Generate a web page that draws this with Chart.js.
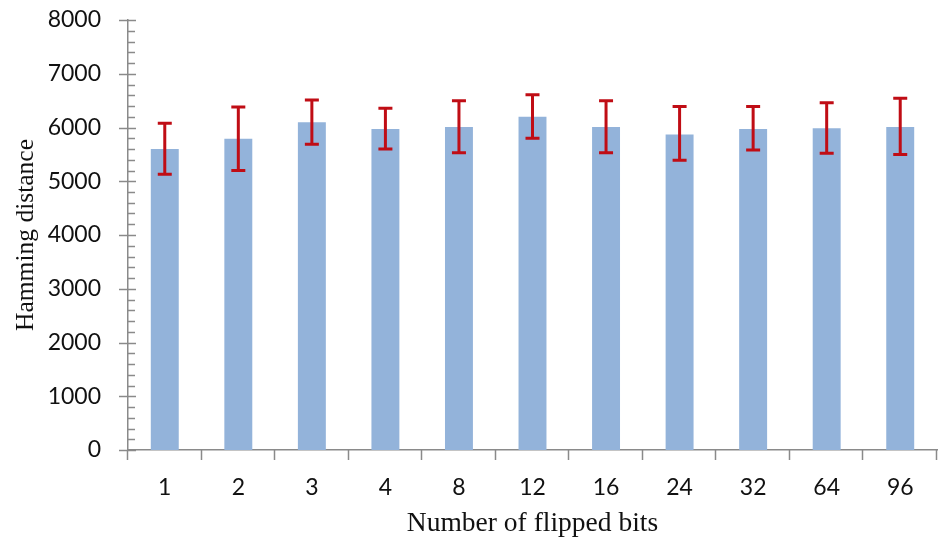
<!DOCTYPE html>
<html>
<head>
    <title>Hamming distance vs flipped bits</title>
    <script src="https://cdn.jsdelivr.net/npm/chart.js"></script>
    <style>
        html, body { margin: 0; padding: 0; background: #fff; }
        #wrap { width: 938px; height: 543px; position: relative; }
    </style>
</head>
<body>
    <div id="wrap"><canvas id="hammingChart"></canvas></div>

    <script>
        // values
        const flippedBits = ['1', '2', '3', '4', '8', '12', '16', '24', '32', '64', '96'];
        const hammingMean = [5600, 5790, 6100, 5970, 6010, 6200, 6010, 5870, 5970, 5985, 6010];
        const errorHigh = [6080, 6380, 6510, 6360, 6500, 6610, 6500, 6390, 6390, 6460, 6545];
        const errorLow = [5130, 5200, 5690, 5600, 5530, 5800, 5530, 5390, 5580, 5520, 5500];

        // draws error bars, axis tick marks (major cross the axis, minor inside)
        const errorBarsAndTicks = {
            id: 'errorBarsAndTicks',
            afterDatasetsDraw(chart) {
                const ctx = chart.ctx;
                const y = chart.scales.y;
                const meta = chart.getDatasetMeta(0);
                ctx.save();
                ctx.strokeStyle = '#C00D15';
                ctx.lineWidth = 3;
                meta.data.forEach((bar, i) => {
                    const top = y.getPixelForValue(errorHigh[i]);
                    const bot = y.getPixelForValue(errorLow[i]);
                    ctx.beginPath();
                    ctx.moveTo(bar.x, top);
                    ctx.lineTo(bar.x, bot);
                    ctx.moveTo(bar.x - 7, top);
                    ctx.lineTo(bar.x + 7, top);
                    ctx.moveTo(bar.x - 7, bot);
                    ctx.lineTo(bar.x + 7, bot);
                    ctx.stroke();
                });

                ctx.strokeStyle = '#8a8a8a';
                ctx.lineWidth = 1.5;
                const left = chart.chartArea.left;
                const bottom = chart.chartArea.bottom;
                ctx.beginPath();
                for (let v = 0; v <= 8000; v += 200) {
                    const py = Math.round(y.getPixelForValue(v)) + 0.5;
                    if (v % 1000 === 0) {
                        ctx.moveTo(left - 9, py);
                        ctx.lineTo(left + 8, py);
                    } else {
                        ctx.moveTo(left, py);
                        ctx.lineTo(left + 7, py);
                    }
                }
                const step = (chart.chartArea.right - left) / flippedBits.length;
                for (let i = 0; i <= flippedBits.length; i++) {
                    const px = Math.round(left + i * step) - 0.5;
                    ctx.moveTo(px, bottom);
                    ctx.lineTo(px, bottom + 10);
                }
                ctx.stroke();
                ctx.restore();
            }
        };

        const ctx = document.getElementById('hammingChart').getContext('2d');
        new Chart(ctx, {
            type: 'bar',
            data: {
                labels: flippedBits,
                datasets: [{
                    label: 'Hamming distance',
                    data: hammingMean,
                    backgroundColor: '#93B3DA',
                    borderWidth: 0,
                    categoryPercentage: 1,
                    barPercentage: 0.38
                }]
            },
            options: {
                responsive: true,
                maintainAspectRatio: false,
                animation: false,
                layout: { padding: { top: 20, right: 1, left: 0, bottom: 0 } },
                plugins: {
                    legend: { display: false },
                    tooltip: { enabled: false }
                },
                scales: {
                    x: {
                        afterFit(scale) { scale.height = 93; },
                        grid: { display: false, drawTicks: false },
                        border: { display: true, color: '#8a8a8a', width: 1.5 },
                        ticks: {
                            color: '#111',
                            padding: 24,
                            font: { family: 'Lato', size: 23 }
                        },
                        title: {
                            display: true,
                            text: 'Number of flipped bits',
                            color: '#111',
                            padding: { top: 0, bottom: 3 },
                            font: { family: 'Liberation Serif', size: 27.5 }
                        }
                    },
                    y: {
                        min: 0,
                        max: 8000,
                        afterFit(scale) {
                            scale.width = 128;
                            scale.paddingTop = 0;
                            scale.paddingBottom = 0;
                        },
                        grid: { display: false, drawTicks: false },
                        border: { display: true, color: '#8a8a8a', width: 1.5 },
                        ticks: {
                            stepSize: 1000,
                            color: '#111',
                            padding: 27,
                            font: { family: 'Lato', size: 23 },
                            callback: v => String(v)
                        },
                        title: {
                            display: true,
                            text: 'Hamming distance',
                            color: '#111',
                            padding: { top: 11, bottom: 0 },
                            font: { family: 'Liberation Serif', size: 25.5 }
                        }
                    }
                }
            },
            plugins: [errorBarsAndTicks]
        });
    </script>
</body>
</html>
